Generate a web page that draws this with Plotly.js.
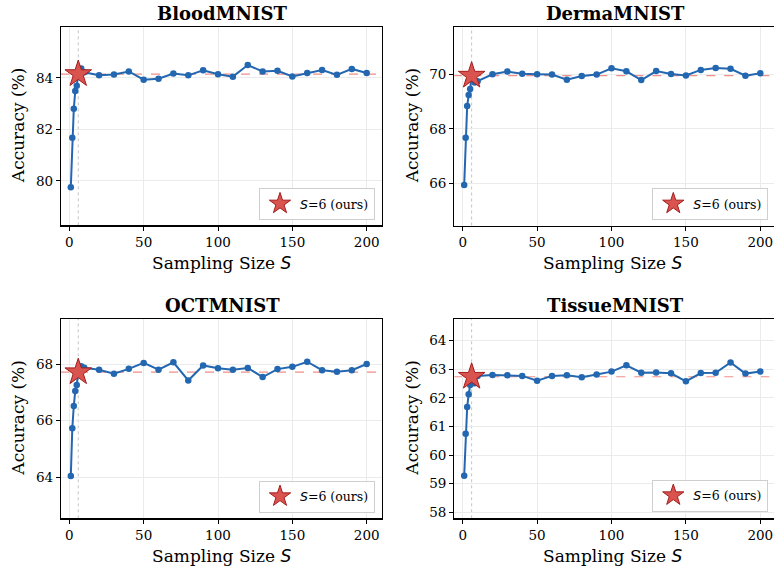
<!DOCTYPE html>
<html>
<head>
<meta charset="utf-8">
<script src="https://cdn.plot.ly/plotly-3.0.1.min.js"></script>
<style>html,body{margin:0;padding:0;background:#fff;}#chart{width:774px;height:568px;}</style>
</head>
<body>
<div id="chart"></div>
<script>
// ---- data ----
const samplingSizes = [1,2,3,4,5,6,8,10,20,30,40,50,60,70,80,90,100,110,120,130,140,150,160,170,180,190,200];
const bloodAcc  = [79.75,81.67,82.80,83.49,83.70,84.15,84.37,84.22,84.10,84.13,84.25,83.93,83.97,84.17,84.10,84.30,84.14,84.05,84.50,84.25,84.28,84.06,84.19,84.31,84.12,84.35,84.19];
const dermaAcc  = [65.95,67.68,68.84,69.24,69.46,69.95,69.70,69.75,70.00,70.10,70.02,70.00,69.99,69.80,69.94,69.99,70.22,70.11,69.79,70.12,70.01,69.96,70.16,70.23,70.20,69.95,70.04];
const octAcc    = [64.04,65.73,66.52,67.05,67.26,67.71,67.92,67.87,67.80,67.66,67.83,68.04,67.80,68.06,67.42,67.95,67.85,67.80,67.86,67.54,67.82,67.90,68.08,67.78,67.73,67.78,68.00];
const tissueAcc = [59.28,60.75,61.68,62.13,62.45,62.74,62.51,62.77,62.80,62.79,62.77,62.60,62.77,62.79,62.72,62.82,62.92,63.14,62.88,62.89,62.86,62.58,62.87,62.88,63.24,62.85,62.92];
const datasetNames = ["BloodMNIST","DermaMNIST","OCTMNIST","TissueMNIST"];
const oursS = 6;
const xTicks = [0,50,100,150,200];
const bloodTicks = [80,82,84];
const dermaTicks = [66,68,70];
const octTicks = [64,66,68];
const tissueTicks = [58,59,60,61,62,63,64];

const series = [bloodAcc, dermaAcc, octAcc, tissueAcc];
const yTickSets = [bloodTicks, dermaTicks, octTicks, tissueTicks];

// ---- layout geometry (pixels) ----
const W = 774, H = 568;
const px = v => v / W, py = v => 1 - v / H;
const panels = [
  {xd:[61,381.7], yd:[27,225.3], xr:[-5.6,210.1], yr:[78.27,85.98], leg:[375,220], right:true, tx:222, lx:221},
  {xd:[454.3,774], yd:[27,225.5], xr:[-5.65,209.2], yr:[64.47,71.73], leg:[768.3,220], right:false, tx:615.5, lx:612},
  {xd:[61,381.7], yd:[319,518.3], xr:[-5.6,210.1], yr:[62.55,69.59], leg:[375,512.7], right:true, tx:222, lx:221},
  {xd:[454.3,774], yd:[319,518.3], xr:[-5.65,209.2], yr:[57.79,64.76], leg:[768.3,511.7], right:false, tx:615.5, lx:612}
];

const BLUE = '#2367b0';
const SERIF = 'DejaVu Serif';
const traces = [];
const layout = {
  width: W, height: H,
  margin: {l:0, r:0, t:0, b:0},
  paper_bgcolor: '#fff', plot_bgcolor: '#fff',
  font: {family: SERIF, size: 13.5, color: '#000'},
  showlegend: true,
  shapes: [], annotations: []
};

const labelS = 'Sampling Size <span style="font-family:DejaVu Sans"><i>S</i></span>';
const legS = '<span style="font-family:DejaVu Sans"><i>S</i></span>=' + oursS + ' (ours)';

panels.forEach((p, i) => {
  const n = i + 1;
  const xa = n === 1 ? 'x' : 'x' + n;
  const ya = n === 1 ? 'y' : 'y' + n;
  const xk = n === 1 ? 'xaxis' : 'xaxis' + n;
  const yk = n === 1 ? 'yaxis' : 'yaxis' + n;
  const lk = n === 1 ? 'legend' : 'legend' + n;
  const vals = series[i];
  const oursIdx = samplingSizes.indexOf(oursS);
  const oursVal = vals[oursIdx];

  layout[xk] = {
    domain: [px(p.xd[0]), px(p.xd[1])], range: p.xr, anchor: ya,
    tickvals: xTicks, ticks: 'outside', ticklen: 4, tickwidth: 1, tickcolor: '#000',
    showline: true, linecolor: '#000', linewidth: 1.2, mirror: true,
    showgrid: true, gridcolor: '#ebebeb', gridwidth: 1, zeroline: false,
    tickfont: {family: SERIF, size: 13.5}
  };
  layout[yk] = {
    domain: [py(p.yd[1]), py(p.yd[0])], range: p.yr, anchor: xa,
    tickvals: yTickSets[i], ticks: 'outside', ticklen: 4, tickwidth: 1, tickcolor: '#000',
    showline: true, linecolor: '#000', linewidth: 1.2, mirror: p.right,
    showgrid: true, gridcolor: '#ebebeb', gridwidth: 1, zeroline: false,
    tickfont: {family: SERIF, size: 13.5}
  };

  traces.push({
    type: 'scatter', mode: 'lines+markers', x: samplingSizes, y: vals,
    xaxis: xa, yaxis: ya, showlegend: false,
    line: {color: BLUE, width: 2}, marker: {color: BLUE, size: 6.5},
    cliponaxis: false
  });
  traces.push({
    type: 'scatter', mode: 'markers', x: [oursS], y: [oursVal],
    xaxis: xa, yaxis: ya, name: legS, legend: lk, showlegend: true,
    marker: {symbol: 'star', size: 20, color: '#d9534f', line: {color: '#a31d1d', width: 1}},
    cliponaxis: false
  });

  layout[lk] = {
    x: px(p.leg[0]), y: py(p.leg[1]), xanchor: 'right', yanchor: 'bottom',
    bgcolor: 'rgba(255,255,255,0.85)', bordercolor: '#cfcfcf', borderwidth: 1,
    font: {family: SERIF, size: 12.5}, itemwidth: 30, tracegroupgap: 0
  };

  layout.shapes.push({
    type: 'line', xref: xa + ' domain', yref: ya, x0: 0, x1: 1, y0: oursVal, y1: oursVal,
    line: {color: 'rgba(235,105,95,0.75)', width: 1.2, dash: 'dash'}, layer: 'below'
  });
  layout.shapes.push({
    type: 'line', xref: xa, yref: ya + ' domain', x0: oursS, x1: oursS, y0: 0, y1: 1,
    line: {color: '#c4c4c4', width: 1, dash: 'dot'}, layer: 'below'
  });

  // subplot title
  layout.annotations.push({
    text: '<b>' + datasetNames[i] + '</b>', xref: 'paper', yref: 'paper',
    x: px(p.tx), y: py(p.yd[0] - 14), xanchor: 'center', yanchor: 'middle',
    showarrow: false, font: {family: SERIF, size: 18}
  });
  // x label
  layout.annotations.push({
    text: labelS, xref: 'paper', yref: 'paper',
    x: px(p.lx), y: py(p.yd[1] + 37.5), xanchor: 'center', yanchor: 'middle',
    showarrow: false, font: {family: SERIF, size: 17}
  });
  // y label
  layout.annotations.push({
    text: 'Accuracy (%)', xref: 'paper', yref: 'paper', textangle: -90,
    x: px(i % 2 === 0 ? 18 : 412), y: py((p.yd[0] + p.yd[1]) / 2), xanchor: 'center', yanchor: 'middle',
    showarrow: false, font: {family: SERIF, size: 17}
  });
});

Plotly.newPlot('chart', traces, layout, {displayModeBar: false, staticPlot: true});
</script>
</body>
</html>
